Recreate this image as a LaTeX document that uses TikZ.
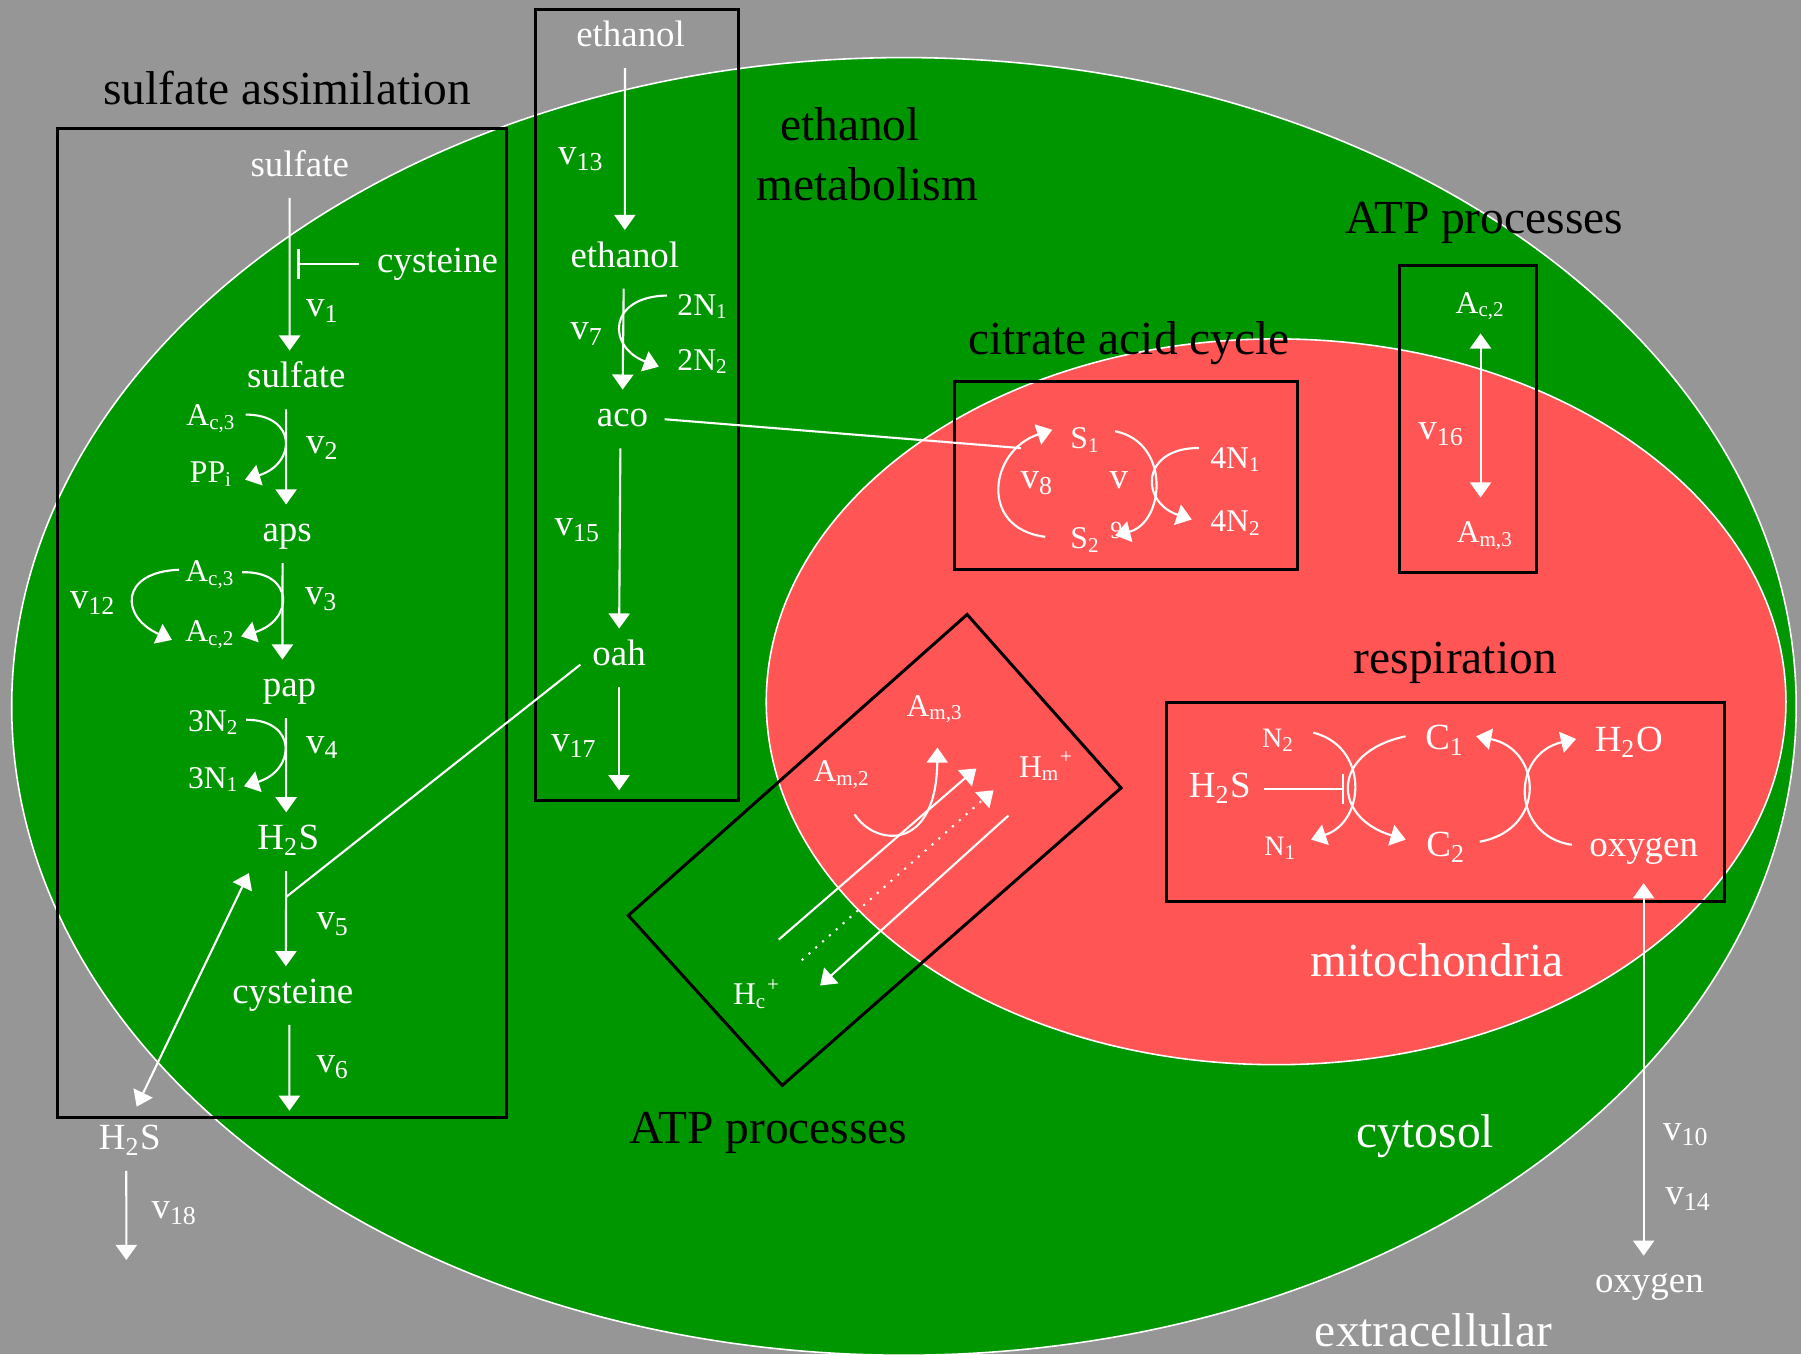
\documentclass[tikz,border=0pt]{standalone}
\usepackage{fontspec}
\setmainfont{Liberation Serif}
\usetikzlibrary{positioning,arrows.meta}
\definecolor{bggray}{RGB}{150,150,150}
\definecolor{cellgreen}{RGB}{0,150,0}
\definecolor{mitored}{RGB}{255,85,85}

\begin{document}
\begin{tikzpicture}[x=0.011486cm, y=0.011486cm, node distance=0.52cm, >={Triangle[length=4.3pt,width=6pt]}]
    \tikzset{
        metab/.style = {text=white, font=\fontsize{10.5}{12}\selectfont, inner sep=0.5pt, text height=7.4pt, text depth=2.4pt},
        sidemet/.style = {text=white, font=\fontsize{9}{11}\selectfont, inner sep=0.5pt, text height=6.4pt, text depth=2.1pt},
        heading/.style = {text=black, font=\fontsize{13.5}{17}\selectfont, inner sep=0pt},
        region/.style = {text=white, font=\fontsize{13.5}{17}\selectfont, inner sep=0pt},
        groupbox/.style = {draw=black, line width=0.85pt},
        wline/.style = {draw=white, line width=0.6pt},
        arrow/.style = {wline, ->, shorten <=3pt, shorten >=2.5pt},
        curvearrow/.style = {wline, ->},
        dblarrow/.style = {wline, <->},
        inhib/.style = {wline, arrows={-Bar[width=8.5pt]}, shorten <=4.5pt},
    }
    \path[use as bounding box] (0,0) rectangle (1568,-1179);
    \fill[bggray] (0,0) rectangle (1568,-1179);
    \filldraw[fill=cellgreen, draw=white, line width=0.45pt] (787,-615) ellipse [x radius=8.925cm, y radius=6.49cm];
    \filldraw[fill=mitored, draw=white, line width=0.45pt] (1111,-611) ellipse [x radius=5.1cm, y radius=3.63cm];

    \draw[groupbox] (50,-112) rectangle (441,-973);
    \draw[groupbox] (466,-8) rectangle (643,-697);
    \draw[groupbox] (831,-332) rectangle (1130,-496);
    \draw[groupbox] (1218,-231) rectangle (1338,-498);
    \draw[groupbox] (1016,-612) rectangle (1501,-785);
    \draw[groupbox] (842,-535) -- (976,-686) -- (681,-945) -- (547,-797) -- cycle;

    \node[heading] (hSulf) at (250,-77) {sulfate assimilation};
    \node[heading, align=center] (hEth) at (755,-134) {ethanol\hspace*{9.8pt}\\metabolism};
    \node[heading] (hCit) at (983,-299) {citrate acid cycle};
    \node[heading] (hAtpA) at (1292,-194) {ATP processes};
    \node[heading] (hResp) at (1267,-577) {respiration};
    \node[heading] (hAtpB) at (669,-986) {ATP processes};
    \node[region] (rMito) at (1251,-836) {mitochondria};
    \node[region] (rCyto) at (1241,-989) {cytosol};
    \node[region] (rExtra) at (1248,-1158) {extracellular};

    \node[metab] (sulfEx) at (261,-146) {sulfate};
    \node[metab] (cysA) at (381,-230) {cysteine};
    \node[metab] (vOne) at (281,-268) {v\textsubscript{1}};
    \node[metab] (sulfIn) at (258,-330) {sulfate};
    \node[sidemet] (acThreeA) at (184,-364) {A\textsubscript{c,3}};
    \node[sidemet, below of=acThreeA, yshift=-0.05cm] (ppi) {PP\textsubscript{i}};
    \node[metab] (vTwo) at (281,-387) {v\textsubscript{2}};
    \node[metab] (aps) at (250,-464) {aps};
    \node[sidemet] (acThreeB) at (183,-500) {A\textsubscript{c,3}};
    \node[sidemet, below of=acThreeB, yshift=-0.08cm] (acTwoA) {A\textsubscript{c,2}};
    \node[metab] (vTwelve) at (81,-522) {v\textsubscript{12}};
    \node[metab] (vThree) at (280,-519) {v\textsubscript{3}};
    \node[metab] (pap) at (252,-599) {pap};
    \node[sidemet] (nTwoA) at (186,-630) {3N\textsubscript{2}};
    \node[sidemet, below of=nTwoA, yshift=-0.05cm] (nOneA) {3N\textsubscript{1}};
    \node[metab] (vFour) at (281,-648) {v\textsubscript{4}};
    \node[metab] (hsIn) at (251,-732) {H\textsubscript{2}S};
    \node[metab] (vFive) at (290,-802) {v\textsubscript{5}};
    \node[metab] (cysB) at (255,-866) {cysteine};
    \node[metab] (vSix) at (290,-926) {v\textsubscript{6}};
    \node[metab] (hsEx) at (113,-993) {H\textsubscript{2}S};
    \node[metab] (vEighteen) at (152,-1053) {v\textsubscript{18}};

    \node[metab] (ethEx) at (549,-33) {ethanol};
    \node[metab] (vThirteen) at (506,-136) {v\textsubscript{13}};
    \node[metab] (ethIn) at (544,-225) {ethanol};
    \node[sidemet] (nOneB) at (612,-268) {2N\textsubscript{1}};
    \node[sidemet, below of=nOneB, yshift=-0.03cm] (nTwoB) {2N\textsubscript{2}};
    \node[metab] (vSeven) at (511,-288) {v\textsubscript{7}};
    \node[metab] (aco) at (542,-364) {aco};
    \node[metab] (vFifteen) at (503,-459) {v\textsubscript{15}};
    \node[metab] (oah) at (539,-572) {oah};
    \node[metab] (vSeventeen) at (500,-647) {v\textsubscript{17}};

    \node[sidemet] (sOne) at (945,-384) {S\textsubscript{1}};
    \node[sidemet] (sTwo) at (945,-471) {S\textsubscript{2}};
    \node[metab] (vEight) at (903,-418) {v\textsubscript{8}};
    \node[metab] (vNine) at (974,-418) {v};
    \node[text=white, font=\fontsize{7}{8}\selectfont, anchor=base, inner sep=0pt] (vNineSub) at (972,-469) {9};
    \node[sidemet] (nOneC) at (1076,-401) {4N\textsubscript{1}};
    \node[sidemet, below of=nOneC, yshift=-0.115cm] (nTwoC) {4N\textsubscript{2}};

    \node[sidemet] (acTwoB) at (1289,-266) {A\textsubscript{c,2}};
    \node[sidemet] (amThreeB) at (1293,-466) {A\textsubscript{m,3}};
    \node[metab] (vSixteen) at (1255,-375) {v\textsubscript{16}};

    \node[sidemet, font=\fontsize{8}{10}\selectfont] (nTwoD) at (1113,-644) {N\textsubscript{2}};
    \node[metab] (hsM) at (1062,-687) {H\textsubscript{2}S};
    \node[sidemet, font=\fontsize{8}{10}\selectfont] (nOneD) at (1115,-738) {N\textsubscript{1}};
    \node[metab] (cOne) at (1258,-645) {C\textsubscript{1}};
    \node[metab] (cTwo) at (1259,-738) {C\textsubscript{2}};
    \node[metab] (water) at (1418,-647) {H\textsubscript{2}O};
    \node[metab] (oxIn) at (1431,-738) {oxygen};
    \node[metab] (oxEx) at (1436,-1118) {oxygen};
    \node[metab] (vTen) at (1468,-985) {v\textsubscript{10}};
    \node[metab] (vFourteen) at (1470,-1041) {v\textsubscript{14}};

    \node[sidemet] (amThreeA) at (814,-617) {A\textsubscript{m,3}};
    \node[sidemet] (amTwo) at (733,-674) {A\textsubscript{m,2}};
    \node[sidemet] (hm) at (911,-670) {H\textsubscript{m}\textsuperscript{+}};
    \node[sidemet] (hc) at (659,-868) {H\textsubscript{c}\textsuperscript{+}};

    \coordinate (inhOne) at (259,-230);
    \coordinate (brH) at (249,-781);
    \coordinate (sOut) at (252,-967);
    \coordinate (hOut) at (110,-1097);
    \coordinate (eOut) at (539,-688);
    \coordinate (inhTwo) at (1170,-687);

    \draw[inhib] (cysA.west) -- (cysA.west -| inhOne);
    \draw[arrow] ([xshift=-2.9pt]sulfEx.south) -- ([xshift=-1.9pt]sulfIn.north);
    \draw[arrow] ([xshift=-2.9pt]sulfIn.south) -- ([xshift=-0.3pt]aps.north);
    \draw[arrow] ([xshift=-1.3pt]aps.south) -- ([xshift=-2pt]pap.north);
    \draw[arrow] ([xshift=-1pt]pap.south) -- ([xshift=-0.6pt]hsIn.north);
    \draw[arrow] ([xshift=-0.6pt]hsIn.south) -- ([xshift=-2pt]cysB.north);
    \draw[arrow, shorten >=0pt] ([xshift=-1pt]cysB.south) -- (sOut);
    \draw[curvearrow] ([xshift=2pt,yshift=1pt]acThreeA.east) .. controls +(45,0) and +(45,14) .. ([xshift=2.8pt,yshift=-1.3pt]ppi.east);
    \draw[curvearrow] ([xshift=1.3pt,yshift=0.6pt]acThreeB.east) .. controls +(46,1) and +(46,14) .. ([xshift=1pt,yshift=-0.6pt]acTwoA.east);
    \draw[curvearrow] ([xshift=-1.1pt,yshift=1.3pt]acThreeB.west) .. controls +(-52,-2) and +(-45,20) .. ([xshift=-3.1pt,yshift=-1.6pt]acTwoA.west);
    \draw[curvearrow] ([xshift=1.3pt,yshift=1.1pt]nTwoA.east) .. controls +(45,0) and +(45,14) .. ([xshift=0.7pt,yshift=-1.6pt]nOneA.east);
    \draw[wline, shorten >=3.5pt] (brH) -- (oah.west);
    \draw[dblarrow, shorten <=4.5pt, shorten >=4pt] (hsEx.north) -- (hsIn.south west);
    \draw[arrow, shorten >=0pt] ([xshift=-1pt]hsEx.south) -- (hOut);

    \draw[arrow] ([xshift=-1.6pt]ethEx.south) -- (ethIn.north);
    \draw[arrow] ([xshift=-0.3pt]ethIn.south) -- (aco.north);
    \draw[curvearrow] ([xshift=-2.3pt,yshift=3.5pt]nOneB.west) .. controls +(-52,-1) and +(-45,17) .. ([xshift=-4.6pt,yshift=-1.1pt]nTwoB.west);
    \draw[arrow] ([xshift=-0.6pt]aco.south) -- (oah.north);
    \draw[arrow, shorten >=0pt] (oah.south) -- (eOut);

    \draw[curvearrow] ([xshift=-6.5pt,yshift=1.2pt]sTwo.west) .. controls +(-58,7) and +(-55,-18) .. coordinate[pos=0.8] (acoJoin) ([xshift=-4.5pt,yshift=3.2pt]sOne.west);
    \draw[wline, shorten <=4pt] (aco.east) -- (acoJoin);
    \draw[curvearrow] ([xshift=3.5pt,yshift=2.8pt]sOne.east) .. controls +(49,-10) and +(43,11) .. ([xshift=3.5pt,yshift=1.6pt]sTwo.east);
    \draw[curvearrow] ([xshift=-2.6pt,yshift=3.6pt]nOneC.west) .. controls +(-51,0) and +(-45,15) .. ([xshift=-4.6pt,yshift=1.3pt]nTwoC.west);

    \draw[dblarrow, shorten <=3pt, shorten >=5.8pt] (acTwoB.south) -- (acTwoB.south |- amThreeB.north);

    \draw[inhib, shorten <=3pt] (hsM.east) -- (hsM.east -| inhTwo);
    \draw[curvearrow] ([xshift=4.6pt,yshift=2pt]nTwoD.east) .. controls +(48,-12) and +(48,16) .. ([xshift=3.3pt,yshift=2.3pt]nOneD.east);
    \draw[curvearrow] ([xshift=-4.9pt,yshift=1.3pt]cOne.west) .. controls +(-66,-14) and +(-64,19) .. ([xshift=-5.2pt,yshift=2.3pt]cTwo.west);
    \draw[curvearrow] ([xshift=3.3pt,yshift=1.7pt]cTwo.east) .. controls +(59,11) and +(57,-11) .. ([xshift=2.6pt,yshift=1.3pt]cOne.east);
    \draw[curvearrow] ([xshift=-4.3pt,yshift=0.8pt]oxIn.west) .. controls +(-53,8) and +(-57,-13) .. ([xshift=-4.6pt,yshift=1.2pt]water.west);
    \draw[dblarrow, shorten <=4.5pt, shorten >=2.5pt] (oxIn.south) -- (oxIn.south |- oxEx.north);

    \draw[curvearrow] ([xshift=3.6pt,yshift=-6.5pt]amTwo.south) .. controls +(18,-28) and +(-1,-91) .. ([xshift=0.7pt,yshift=-6.1pt]amThreeA.south);
    \draw[curvearrow] ([shift={(19,50)}]hc.center) -- ([shift={(-61,1)}]hm.center);
    \draw[curvearrow, dotted] ([shift={(39,32)}]hc.center) -- ([shift={(-46,-18)}]hm.center);
    \draw[curvearrow] ([shift={(-33,-40)}]hm.center) -- ([shift={(55,10)}]hc.center);
\end{tikzpicture}
\end{document}
